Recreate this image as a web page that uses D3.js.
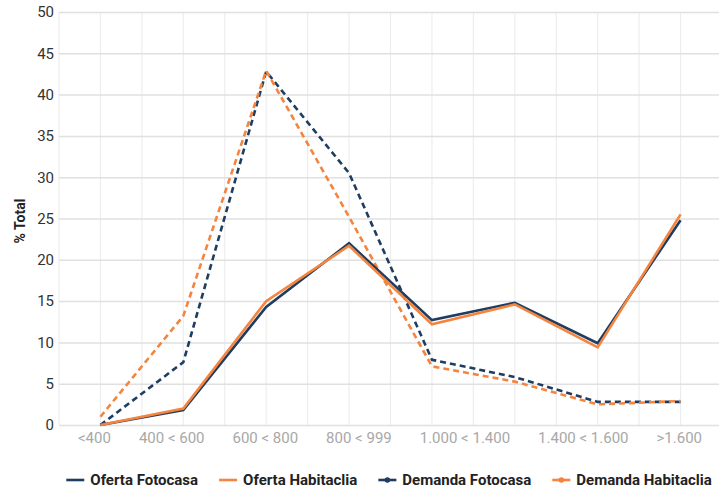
<!DOCTYPE html>
<html>
<head>
<meta charset="utf-8">
<script src="https://cdn.jsdelivr.net/npm/d3@7"></script>
<style>
  html, body { margin: 0; padding: 0; background: #fff; }
  svg { display: block; font-family: Roboto, "Open Sans", sans-serif; }
</style>
</head>
<body>
<svg id="chart" width="719" height="489"></svg>
<script>
const categories = ["<400", "400 < 600", "600 < 800", "800 < 999", "1.000 < 1.400", "", "1.400 < 1.600", ">1.600"];
const ofertaFotocasa   = [0, 1.8, 14.3, 22.0, 12.7, 14.8, 9.9, 24.8];
const ofertaHabitaclia = [0, 2.0, 15.0, 21.7, 12.2, 14.6, 9.4, 25.5];
const demandaFotocasa  = [0, 7.6, 42.8, 30.5, 7.9, 5.8, 2.8, 2.8];
const demandaHabitaclia= [1.0, 13.2, 42.9, 25.2, 7.1, 5.25, 2.5, 2.9];
const yTicks = [0, 5, 10, 15, 20, 25, 30, 35, 40, 45, 50];
const seriesNames = ["Oferta Fotocasa", "Oferta Habitaclia", "Demanda Fotocasa", "Demanda Habitaclia"];

const NAVY = "#1f3d60", ORANGE = "#f4843e";
const series = [
  { name: seriesNames[0], values: ofertaFotocasa, color: NAVY, dashed: false },
  { name: seriesNames[1], values: ofertaHabitaclia, color: ORANGE, dashed: false },
  { name: seriesNames[2], values: demandaFotocasa, color: NAVY, dashed: true },
  { name: seriesNames[3], values: demandaHabitaclia, color: ORANGE, dashed: true }
];

const svg = d3.select("#chart");
const W = 719;
const pLeft = 59, pRight = 722, pTop = 12, pBottom = 425;

const x = d3.scalePoint().domain(d3.range(categories.length)).range([pLeft, pRight]).padding(0.5);
const step = x.step();
const y = d3.scaleLinear().domain([0, 50]).range([pBottom, pTop]);

// vertical gridlines (categories and midpoints)
const vg = svg.append("g");
const vPositions = [];
for (let i = 0; i <= categories.length * 2; i++) vPositions.push(pLeft + i * step / 2);
vg.selectAll("line").data(vPositions).enter().append("line")
  .attr("x1", d => d).attr("x2", d => d).attr("y1", pTop).attr("y2", pBottom)
  .attr("stroke", "#ededed").attr("stroke-width", 1.2);

// horizontal gridlines via axis
const yAxis = svg.append("g").attr("transform", `translate(${pLeft},0)`)
  .call(d3.axisLeft(y).tickValues(yTicks).tickSize(-(pRight - pLeft)).tickPadding(5));
yAxis.select(".domain").remove();
yAxis.selectAll(".tick line").attr("stroke", "#e0e0e0").attr("stroke-width", 1.5);
yAxis.selectAll(".tick text").attr("fill", "#333").attr("font-size", 15)
  .attr("font-family", "Roboto, sans-serif");

// x axis labels: laid out as a flow with equal gaps across the label band
const labelStart = pLeft + 19, labelEnd = W - 17;
const xLab = svg.append("g").attr("transform", `translate(0,${pBottom + 7})`);
const labs = categories.filter(c => c !== "");
const labTexts = xLab.selectAll("text").data(labs).enter().append("text")
  .attr("dy", "0.71em").attr("fill", "#a8a8a8").attr("font-size", 15)
  .attr("font-family", "Roboto, sans-serif").text(d => d);
const labW = [];
labTexts.each(function () { labW.push(this.getComputedTextLength()); });
const gap = (labelEnd - labelStart - d3.sum(labW)) / (labs.length - 1);
let cx = labelStart;
labTexts.each(function (d, i) { d3.select(this).attr("x", cx); cx += labW[i] + gap; });

// y title
svg.append("text").attr("transform", `translate(25,221) rotate(-90)`)
  .attr("text-anchor", "middle").attr("font-size", 14).attr("font-weight", "bold")
  .attr("fill", "#222").text("% Total");

const line = d3.line().x((d, i) => x(i)).y(d => y(d));

// draw demand first then offer
[series[2], series[3], series[0], series[1]].forEach(s => {
  svg.append("path").datum(s.values)
    .attr("d", line).attr("fill", "none")
    .attr("stroke", s.color).attr("stroke-width", 2.6)
    .attr("stroke-linejoin", "miter")
    .attr("stroke-dasharray", s.dashed ? "6,4" : null);
});

// legend: centered flow under plot area
const lg = svg.append("g");
const items = series.map((s, i) => {
  const g = lg.append("g");
  g.append("line").attr("x1", 0).attr("x2", 18).attr("y1", 0).attr("y2", 0)
    .attr("stroke", s.color).attr("stroke-width", 2.6);
  if (s.dashed) g.append("circle").attr("cx", 9).attr("cy", 0).attr("r", 2.8).attr("fill", s.color);
  const t = g.append("text").attr("x", 24).attr("y", 0).attr("dy", "0.35em")
    .attr("font-size", 15).attr("font-weight", "bold").attr("fill", "#222")
    .text(s.name);
  return { g, w: 24 + t.node().getComputedTextLength() };
});
const itemGap = 21;
const totalW = d3.sum(items, d => d.w) + itemGap * (items.length - 1);
let lx = (pLeft + W) / 2 - totalW / 2;
items.forEach(it => { it.g.attr("transform", `translate(${lx},480)`); lx += it.w + itemGap; });
</script>
</body>
</html>
